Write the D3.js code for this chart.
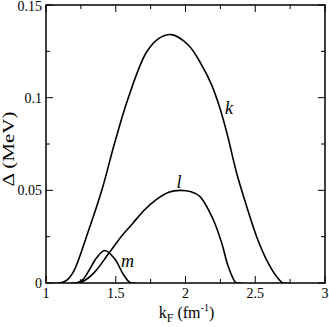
<!DOCTYPE html>
<html>
<head>
  <meta charset="utf-8">
  <script src="https://d3js.org/d3.v7.min.js"></script>
  <style>
    body { margin: 0; background: #fff; }
    svg text { font-family: "Liberation Serif", "Times New Roman", Times, serif; }
  </style>
</head>
<body>
  <div id="chart"></div>
  <script>
    // curves: k_F (fm^-1) vs gap (MeV)
    var kX = [1.06, 1.10, 1.15, 1.20, 1.29, 1.40, 1.49, 1.59, 1.72, 1.81, 1.90, 2.02, 2.116, 2.188, 2.247, 2.30, 2.367, 2.439, 2.51, 2.582, 2.654, 2.70, 2.74];
    var kY = [0, 0, 0.0015, 0.0065, 0.025, 0.05, 0.075, 0.10, 0.1245, 0.132, 0.134, 0.1284, 0.1176, 0.1068, 0.0943, 0.080, 0.0592, 0.0412, 0.025, 0.0124, 0.0034, 0, 0];
    var lX = [1.18, 1.22, 1.28, 1.35, 1.45, 1.55, 1.62, 1.70, 1.79, 1.88, 1.96, 2.04, 2.104, 2.20, 2.26, 2.307, 2.355, 2.37, 2.40];
    var lY = [0, 0, 0.0015, 0.006, 0.016, 0.026, 0.032, 0.039, 0.045, 0.049, 0.050, 0.0492, 0.0466, 0.034, 0.0214, 0.0088, 0.0007, 0, 0];
    var mX = [1.18, 1.22, 1.26, 1.31, 1.36, 1.42, 1.49, 1.55, 1.59, 1.61, 1.65];
    var mY = [0, 0, 0.0015, 0.007, 0.0133, 0.0175, 0.0133, 0.0052, 0.001, 0, 0];

    var xTicks = [1, 1.5, 2, 2.5, 3];
    var xTickLabels = ["1", "1.5", "2", "2.5", "3"];
    var yTicks = [0, 0.05, 0.1, 0.15];
    var yTickLabels = ["0", "0.05", "0.1", "0.15"];

    var curveLabels = [
      { name: "k", x: 2.312, y: 0.0912 },
      { name: "l", x: 1.953, y: 0.0512 },
      { name: "m", x: 1.584, y: 0.0088 }
    ];

    var W = 329, H = 327;
    var margin = { top: 5, right: 4, bottom: 44, left: 46 };

    var svg = d3.select("#chart").append("svg")
      .attr("width", W).attr("height", H);

    var x = d3.scaleLinear().domain([1, 3]).range([margin.left, W - margin.right]);
    var y = d3.scaleLinear().domain([0, 0.15]).range([H - margin.bottom, margin.top]);

    var line = d3.line()
      .x(function (d) { return x(d[0]); })
      .y(function (d) { return y(d[1]); })
      .curve(d3.curveCatmullRom.alpha(0.5));

    function pairs(xs, ys) { return xs.map(function (v, i) { return [v, ys[i]]; }); }

    svg.append("defs").append("clipPath").attr("id", "clip")
      .append("rect")
      .attr("x", x(1)).attr("y", y(0.15))
      .attr("width", x(3) - x(1)).attr("height", y(0) - y(0.15));

    var curves = svg.append("g").attr("clip-path", "url(#clip)");
    [pairs(kX, kY), pairs(lX, lY), pairs(mX, mY)].forEach(function (data) {
      curves.append("path")
        .attr("d", line(data))
        .attr("fill", "none")
        .attr("stroke", "#000")
        .attr("stroke-width", 1.6);
    });

    // ticks (inward, on all four sides)
    var tk = svg.append("g").attr("stroke", "#000").attr("stroke-width", 1);
    d3.range(1, 3.001, 0.25).forEach(function (v) {
      var major = Math.abs(v * 2 - Math.round(v * 2)) < 1e-6;
      var len = major ? 7 : 4;
      tk.append("line").attr("x1", x(v)).attr("x2", x(v)).attr("y1", y(0)).attr("y2", y(0) - len);
      tk.append("line").attr("x1", x(v)).attr("x2", x(v)).attr("y1", y(0.15)).attr("y2", y(0.15) + len);
    });
    d3.range(0, 0.1501, 0.025).forEach(function (v) {
      var major = Math.abs(v * 20 - Math.round(v * 20)) < 1e-6;
      var len = major ? 7 : 4;
      tk.append("line").attr("y1", y(v)).attr("y2", y(v)).attr("x1", x(1)).attr("x2", x(1) + len);
      tk.append("line").attr("y1", y(v)).attr("y2", y(v)).attr("x1", x(3)).attr("x2", x(3) - len);
    });

    svg.append("rect")
      .attr("x", x(1)).attr("y", y(0.15))
      .attr("width", x(3) - x(1)).attr("height", y(0) - y(0.15))
      .attr("fill", "none").attr("stroke", "#000").attr("stroke-width", 1.5);

    // tick labels
    svg.selectAll(".xl").data(xTicks).enter().append("text")
      .attr("x", function (d) { return x(d); })
      .attr("y", y(0) + 15)
      .attr("text-anchor", "middle")
      .attr("font-size", 14)
      .text(function (d, i) { return xTickLabels[i]; });

    svg.selectAll(".yl").data(yTicks).enter().append("text")
      .attr("x", x(1) - 4)
      .attr("y", function (d) { return Math.max(y(d) + 5, 10.5); })
      .attr("text-anchor", "end")
      .attr("font-size", 14)
      .text(function (d, i) { return yTickLabels[i]; });

    // axis titles
    var xt = svg.append("text")
      .attr("x", 186.5).attr("y", 318)
      .attr("text-anchor", "middle")
      .attr("font-size", 16);
    xt.append("tspan").text("k");
    xt.append("tspan").attr("font-size", 12).attr("dy", 4).text("F");
    xt.append("tspan").attr("dy", -4).text(" (fm");
    xt.append("tspan").attr("font-size", 10).attr("dy", -7).text("-1");
    xt.append("tspan").attr("dy", 7).text(")");

    svg.append("text")
      .attr("transform", "translate(13.5,149) rotate(-90)")
      .attr("text-anchor", "middle")
      .attr("font-size", 16)
      .attr("textLength", 75)
      .attr("lengthAdjust", "spacingAndGlyphs")
      .text("\u0394  (MeV)");

    // curve names
    svg.selectAll(".cl").data(curveLabels).enter().append("text")
      .attr("x", function (d) { return x(d.x); })
      .attr("y", function (d) { return y(d.y); })
      .attr("text-anchor", "middle")
      .attr("font-style", "italic")
      .attr("font-size", 18)
      .text(function (d) { return d.name; });
  </script>
</body>
</html>
